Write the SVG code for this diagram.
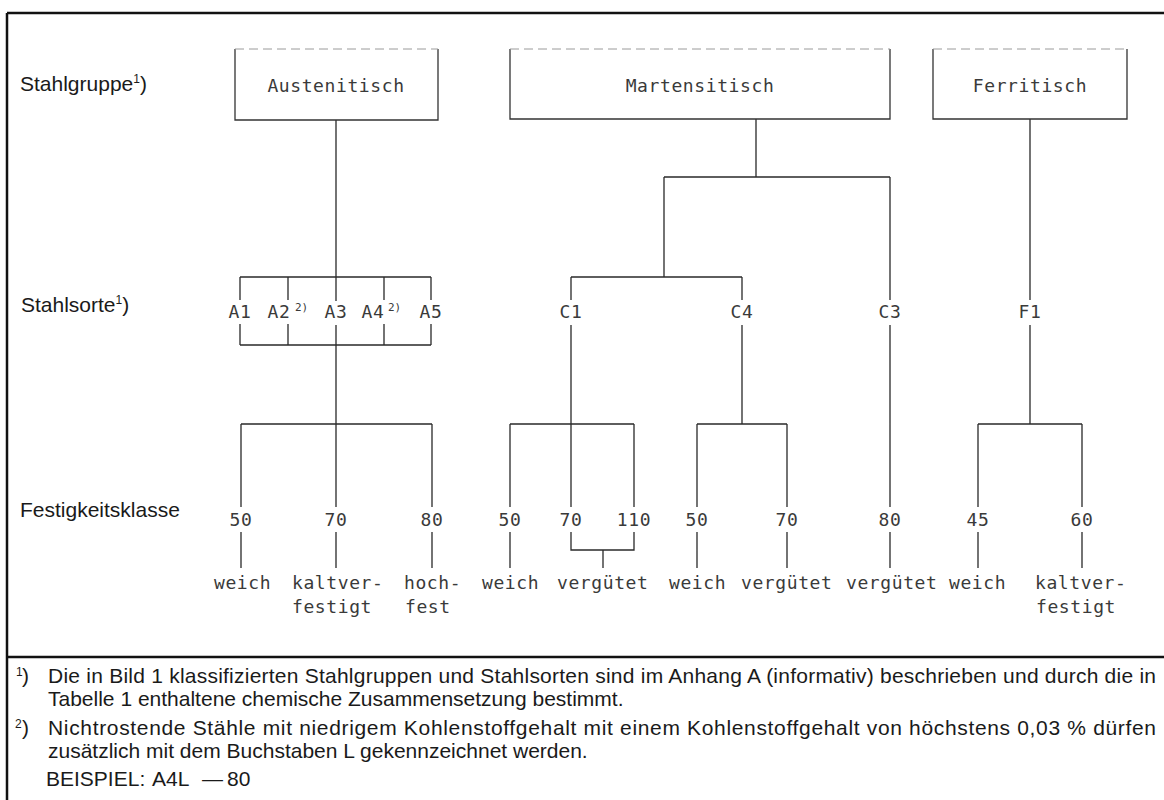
<svg xmlns="http://www.w3.org/2000/svg" width="1164" height="800" viewBox="0 0 1164 800">
<style>
.bg{fill:#fff}
.frame{stroke:#111;stroke-width:2.5;fill:none}
.ln{stroke:#2a2a2a;stroke-width:1.3;fill:none}
.box{stroke:#333;stroke-width:1.3;fill:none}
.boxtop{stroke:#9a9a9a;stroke-width:1;stroke-dasharray:9 5;fill:none}
.tl{font-family:"DejaVu Sans Mono","Liberation Mono",monospace;font-size:18px;letter-spacing:0.6px;fill:#3a3a3a}
.tc{text-anchor:middle}
.sup2{font-family:"DejaVu Sans Mono","Liberation Mono",monospace;font-size:11px;fill:#3a3a3a}
.lab{font-family:"Liberation Sans",Arial,sans-serif;font-size:21px;fill:#1a1a1a}
.sup{font-size:12px}
.fnm{font-family:"Liberation Sans",Arial,sans-serif;font-size:12px;fill:#1a1a1a}
</style>
<rect class="bg" x="0" y="0" width="1164" height="800"/>
<g id="frame">
<path class="frame" d="M7,13 H1164 M7,13 V800 M7,657 H1164"/>
</g>
<g id="row-labels">
<text class="lab" x="20" y="91">Stahlgruppe<tspan class="sup" dy="-8">1</tspan><tspan dy="8">)</tspan></text>
<text class="lab" x="21" y="312">Stahlsorte<tspan class="sup" dy="-8">1</tspan><tspan dy="8">)</tspan></text>
<text class="lab" x="20" y="517">Festigkeitsklasse</text>
</g>
<g id="connectors">
<path class="ln" d="M336,120 V301 M336,325 V424 M240,277 H431 M240,345 H431 M240,277 V300 M240,324 V345 M288,277 V300 M288,324 V345 M384,277 V300 M384,324 V345 M431,277 V300 M431,324 V345 M241,424 H432 M241,424 V507 M432,424 V507 M336,424 V507 M241,532 V568 M336,532 V568 M432,532 V568"/>
<path class="ln" d="M756,119 V177 M664,177 H890 M664,177 V277 M571,277 H742 M571,277 V300 M571,325 V507 M742,277 V300 M742,325 V424 M890,177 V300 M890,325 V507 M510,424 H634 M510,424 V507 M634,424 V507 M697,424 H787 M697,424 V507 M787,424 V507 M510,532 V568 M571,532 V550 H634 V532 M603,550 V568 M697,532 V568 M787,532 V568 M890,532 V568"/>
<path class="ln" d="M1030,119 V300 M1030,325 V424 M978,424 H1082 M978,424 V507 M1082,424 V507 M978,532 V568 M1082,532 V568"/>
</g>
<g id="node-austenitisch">
<path class="box" d="M235,49 V120 H438 V49"/>
<path class="boxtop" d="M235,49 H438"/>
<text class="tl tc" x="336" y="92">Austenitisch</text>
</g>
<g id="node-martensitisch">
<path class="box" d="M510,49 V119 H890 V49"/>
<path class="boxtop" d="M510,49 H890"/>
<text class="tl tc" x="700" y="92">Martensitisch</text>
</g>
<g id="node-ferritisch">
<path class="box" d="M933,49 V119 H1127 V49"/>
<path class="boxtop" d="M933,49 H1127"/>
<text class="tl tc" x="1030" y="92">Ferritisch</text>
</g>
<g id="node-A1"><text class="tl tc" x="240" y="318">A1</text></g>
<g id="node-A2"><text class="tl tc" x="279" y="318">A2</text><text class="sup2" x="295" y="311">2)</text></g>
<g id="node-A3"><text class="tl tc" x="336" y="318">A3</text></g>
<g id="node-A4"><text class="tl tc" x="373" y="318">A4</text><text class="sup2" x="388" y="311">2)</text></g>
<g id="node-A5"><text class="tl tc" x="431" y="318">A5</text></g>
<g id="node-C1"><text class="tl tc" x="571" y="318">C1</text></g>
<g id="node-C4"><text class="tl tc" x="742" y="318">C4</text></g>
<g id="node-C3"><text class="tl tc" x="890" y="318">C3</text></g>
<g id="node-F1"><text class="tl tc" x="1030" y="318">F1</text></g>
<g id="node-A-50"><text class="tl tc" x="241" y="526">50</text><text class="tl" x="214" y="589">weich</text></g>
<g id="node-A-70"><text class="tl tc" x="336" y="526">70</text><text class="tl" x="292" y="589">kaltver-</text><text class="tl" x="292" y="613">festigt</text></g>
<g id="node-A-80"><text class="tl tc" x="432" y="526">80</text><text class="tl" x="404" y="589">hoch-</text><text class="tl" x="405" y="613">fest</text></g>
<g id="node-C1-50"><text class="tl tc" x="510" y="526">50</text><text class="tl" x="482" y="589">weich</text></g>
<g id="node-C1-70"><text class="tl tc" x="571" y="526">70</text></g>
<g id="node-C1-110"><text class="tl tc" x="634" y="526">110</text></g>
<g id="node-C1-verguetet"><text class="tl" x="557" y="589">vergütet</text></g>
<g id="node-C4-50"><text class="tl tc" x="697" y="526">50</text><text class="tl" x="669" y="589">weich</text></g>
<g id="node-C4-70"><text class="tl tc" x="787" y="526">70</text><text class="tl" x="741" y="589">vergütet</text></g>
<g id="node-C3-80"><text class="tl tc" x="890" y="526">80</text><text class="tl" x="846" y="589">vergütet</text></g>
<g id="node-F1-45"><text class="tl tc" x="978" y="526">45</text><text class="tl" x="949" y="589">weich</text></g>
<g id="node-F1-60"><text class="tl tc" x="1082" y="526">60</text><text class="tl" x="1035" y="589">kaltver-</text><text class="tl" x="1036" y="613">festigt</text></g>
<g id="footnotes">
<text class="fnm" x="16" y="676">1</text>
<text class="lab" x="22" y="683">)</text>
<text class="lab" x="48" y="683" textLength="1108" lengthAdjust="spacing">Die in Bild 1 klassifizierten Stahlgruppen und Stahlsorten sind im Anhang A (informativ) beschrieben und durch die in</text>
<text class="lab" x="48" y="706">Tabelle 1 enthaltene chemische Zusammensetzung bestimmt.</text>
<text class="fnm" x="15" y="728">2</text>
<text class="lab" x="22" y="735">)</text>
<text class="lab" x="48" y="735" textLength="1108" lengthAdjust="spacing">Nichtrostende Stähle mit niedrigem Kohlenstoffgehalt mit einem Kohlenstoffgehalt von höchstens 0,03 % dürfen</text>
<text class="lab" x="48" y="758">zusätzlich mit dem Buchstaben L gekennzeichnet werden.</text>
<text class="lab" y="786"><tspan x="46">BEISPIEL:</tspan><tspan x="152">A4L</tspan><tspan x="202">—</tspan><tspan x="227">80</tspan></text>
</g>
</svg>
